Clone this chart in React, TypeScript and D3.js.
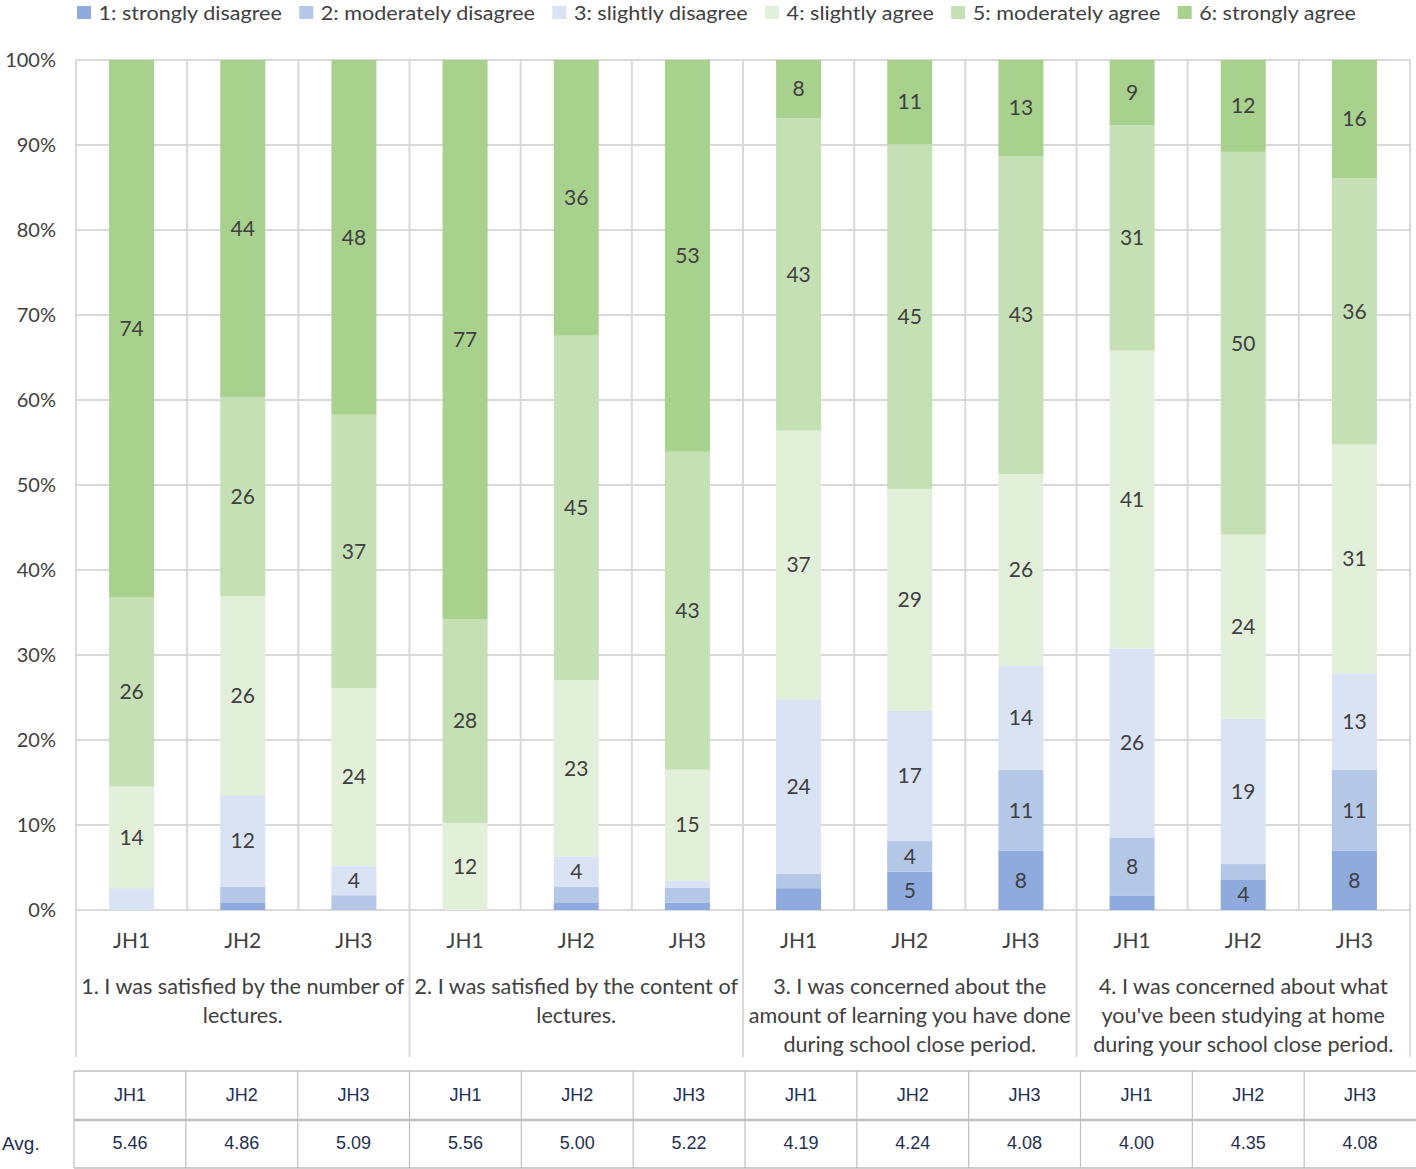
import React, { useLayoutEffect, useRef, useState } from "react";
import * as d3 from "d3";

// ---- data ----
const categories = ["JH1", "JH2", "JH3", "JH1", "JH2", "JH3", "JH1", "JH2", "JH3", "JH1", "JH2", "JH3"];
const groupLabels: string[][] = [
  ["1. I was satisfied by the number of", "lectures."],
  ["2. I was satisfied by the content of", "lectures."],
  ["3. I was concerned about the", "amount of learning you have done", "during school close period."],
  ["4. I was concerned about what", "you've been studying at home", "during your school close period."],
];
const seriesNames = [
  "1: strongly disagree",
  "2: moderately disagree",
  "3: slightly disagree",
  "4: slightly agree",
  "5: moderately agree",
  "6: strongly agree",
];
// counts per bar
const s1 = [0, 1, 0, 0, 1, 1, 3, 5, 8, 2, 4, 8];
const s2 = [0, 2, 2, 0, 2, 2, 2, 4, 11, 8, 2, 11];
const s3 = [3, 12, 4, 0, 4, 1, 24, 17, 14, 26, 19, 13];
const s4 = [14, 26, 24, 12, 23, 15, 37, 29, 26, 41, 24, 31];
const s5 = [26, 26, 37, 28, 45, 43, 43, 45, 43, 31, 50, 36];
const s6 = [74, 44, 48, 77, 36, 53, 8, 11, 13, 9, 12, 16];
const averages = ["5.46", "4.86", "5.09", "5.56", "5.00", "5.22", "4.19", "4.24", "4.08", "4.00", "4.35", "4.08"];
const yTicks = [0, 0.1, 0.2, 0.3, 0.4, 0.5, 0.6, 0.7, 0.8, 0.9, 1.0];
const colors = ["#8faadc", "#b4c7e7", "#dae3f3", "#e2f0d9", "#c5e0b4", "#a9d18e"];

const W = 1416;
const H = 1169;
const chartFont = "Lato, 'Open Sans', sans-serif";
const tableFont = "'Liberation Sans', Arial, sans-serif";
const textColor = "#404040";
const gridColor = "#d9d9d9";

export default function App() {
  const series = [s1, s2, s3, s4, s5, s6];
  const rows = categories.map((c, i) => {
    const r: any = { idx: i };
    series.forEach((s, k) => (r["s" + k] = s[i]));
    return r;
  });
  const keys = series.map((_, k) => "s" + k);
  const stack = d3.stack<any>().keys(keys).offset(d3.stackOffsetExpand);
  const stacked = stack(rows);

  const x = d3.scaleBand<number>().domain(d3.range(categories.length)).range([76, 1410]).paddingInner(0).paddingOuter(0);
  const y = d3.scaleLinear().domain([0, 1]).range([910, 60]);
  const barW = x.bandwidth() * 0.405;
  const xt = d3.scaleBand<number>().domain(d3.range(categories.length)).range([74, 1416]);

  const legendRef = useRef<SVGGElement>(null);
  const [legendLayout, setLegendLayout] = useState<{ xs: number[]; scale: number } | null>(null);
  useLayoutEffect(() => {
    if (!legendRef.current) return;
    const texts = Array.from(legendRef.current.querySelectorAll("text.lg")) as SVGTextElement[];
    const widths = texts.map((t) => t.getComputedTextLength());
    const sq = 13, gap1 = 7, gap2 = 16;
    const xs: number[] = [];
    let cx = 0;
    widths.forEach((w) => {
      xs.push(cx);
      cx += sq + gap1 + w + gap2;
    });
    const total = cx - gap2;
    setLegendLayout({ xs, scale: (1356 - 77) / total });
  }, []);

  const gridTop = y(1);
  const gridBottom = y(0);
  const boundaries = d3.range(categories.length + 1).map((i) => (i < categories.length ? x(i)! : x.range()[1]));

  return (
    <svg width={W} height={H} style={{ position: "absolute", left: 0, top: 0, background: "#fff" }}>
      {/* legend */}
      <g ref={legendRef} transform={`translate(77,0) scale(${legendLayout ? legendLayout.scale : 1},1)`}>
        {seriesNames.map((n, k) => {
          const lx = legendLayout ? legendLayout.xs[k] : k * 220;
          return (
            <g key={n} transform={`translate(${lx},0)`}>
              <rect x={0} y={6} width={13} height={13} fill={colors[k]} />
              <text className="lg" x={20} y={20} fontFamily={chartFont} fontSize={20} fill={textColor}>
                {n}
              </text>
            </g>
          );
        })}
      </g>

      {/* horizontal gridlines */}
      {yTicks.map((t) => (
        <line key={t} x1={76} x2={1410} y1={y(t)} y2={y(t)} stroke={gridColor} strokeWidth={2} />
      ))}
      {/* vertical lines */}
      {boundaries.map((bx, i) => (
        <line
          key={i}
          x1={bx}
          x2={bx}
          y1={gridTop}
          y2={i % 3 === 0 ? 1057 : gridBottom}
          stroke={gridColor}
          strokeWidth={2}
        />
      ))}

      {/* y axis labels */}
      {yTicks.map((t) => (
        <text
          key={t}
          x={56}
          y={y(t)}
          dy="0.35em"
          textAnchor="end"
          fontFamily={chartFont}
          fontSize={20}
          fill={textColor}
        >
          {d3.format(".0%")(t)}
        </text>
      ))}

      {/* bars */}
      {stacked.map((layer, k) => (
        <g key={k}>
          {layer.map((d, i) => {
            const cx = x(i)! + x.bandwidth() / 2;
            const h = y(d[0]) - y(d[1]);
            if (h <= 0) return null;
            return <rect key={i} x={cx - barW / 2} y={y(d[1])} width={barW} height={h} fill={colors[k]} />;
          })}
        </g>
      ))}
      {/* data labels */}
      {stacked.map((layer, k) => (
        <g key={"l" + k}>
          {layer.map((d, i) => {
            const v = series[k][i];
            if (v < 4) return null;
            const cx = x(i)! + x.bandwidth() / 2;
            return (
              <text
                key={i}
                x={cx}
                y={y((d[0] + d[1]) / 2)}
                dy="0.35em"
                textAnchor="middle"
                fontFamily={chartFont}
                fontSize={21}
                fill={textColor}
              >
                {v}
              </text>
            );
          })}
        </g>
      ))}

      {/* category labels */}
      {categories.map((c, i) => (
        <text
          key={i}
          x={x(i)! + x.bandwidth() / 2}
          y={941}
          dy="0.35em"
          textAnchor="middle"
          fontFamily={chartFont}
          fontSize={21}
          fill={textColor}
        >
          {c}
        </text>
      ))}
      {/* group labels */}
      {groupLabels.map((lines, g) => {
        const gx = (x(g * 3)! + (g * 3 + 3 < categories.length ? x(g * 3 + 3)! : x.range()[1])) / 2;
        return (
          <text key={g} textAnchor="middle" fontFamily={chartFont} fontSize={21.6} fill={textColor}>
            {lines.map((ln, j) => (
              <tspan key={j} x={gx} y={986 + j * 29} dy="0.35em">
                {ln}
              </tspan>
            ))}
          </text>
        );
      })}

      {/* table */}
      <g fontFamily={tableFont} fontSize={18} fill="#1f2f4f">
        <line x1={74} x2={1416} y1={1071} y2={1071} stroke="#bfbfbf" strokeWidth={1.5} />
        <line x1={74} x2={1416} y1={1120} y2={1120} stroke="#bfbfbf" strokeWidth={2.5} />
        <line x1={74} x2={1416} y1={1168} y2={1168} stroke="#bfbfbf" strokeWidth={1.5} />
        {d3.range(categories.length).map((i) => (
          <line key={i} x1={xt(i)!} x2={xt(i)!} y1={1071} y2={1168} stroke="#bfbfbf" strokeWidth={1.2} />
        ))}
        {categories.map((c, i) => (
          <text key={"c" + i} x={xt(i)! + xt.bandwidth() / 2} y={1095} dy="0.35em" textAnchor="middle">
            {c}
          </text>
        ))}
        {averages.map((a, i) => (
          <text key={"a" + i} x={xt(i)! + xt.bandwidth() / 2} y={1143} dy="0.35em" textAnchor="middle">
            {a}
          </text>
        ))}
        <text x={2} y={1143} dy="0.35em" fontSize={19}>
          Avg.
        </text>
      </g>
    </svg>
  );
}
